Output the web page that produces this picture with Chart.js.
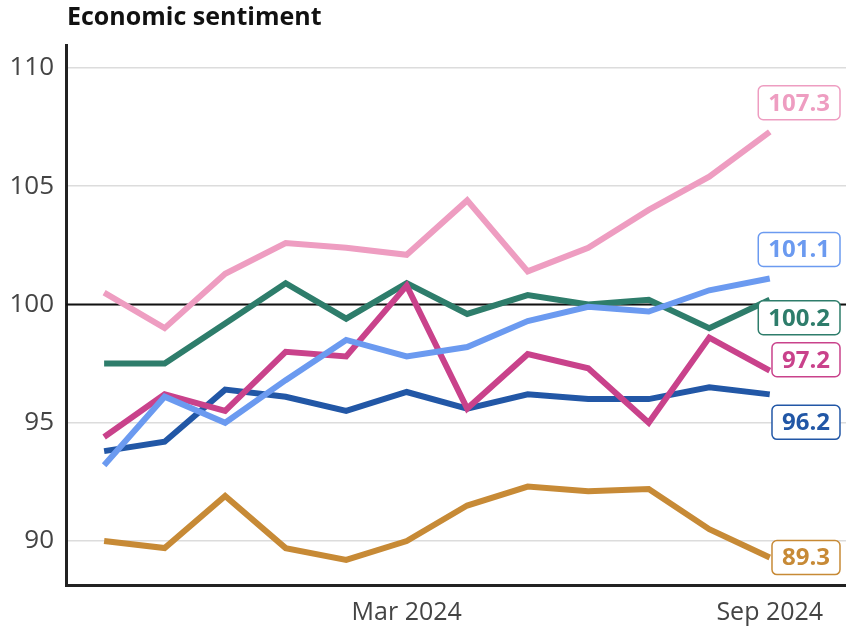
<!DOCTYPE html>
<html>
<head>
<meta charset="utf-8">
<script src="https://cdn.jsdelivr.net/npm/chart.js@4"></script>
<style>
  html, body { margin: 0; padding: 0; background: #fff; }
  #wrap { width: 846px; height: 627px; position: relative; }
</style>
</head>
<body>
<div id="wrap"><canvas id="chart" width="846" height="627"></canvas></div>
<script>
const months = ["Oct 2023", "Nov 2023", "Dec 2023", "Jan 2024", "Feb 2024", "Mar 2024",
                "Apr 2024", "May 2024", "Jun 2024", "Jul 2024", "Aug 2024", "Sep 2024"];
const shownMonths = ["Mar 2024", "Sep 2024"];
const yTicks = [90, 95, 100, 105, 110];

const pinkValues    = [100.5, 99.0, 101.3, 102.6, 102.4, 102.1, 104.4, 101.4, 102.4, 104.0, 105.4, 107.3];
const lightValues   = [93.2, 96.1, 95.0, 96.8, 98.5, 97.8, 98.2, 99.3, 99.9, 99.7, 100.6, 101.1];
const magentaValues = [94.4, 96.2, 95.5, 98.0, 97.8, 100.8, 95.6, 97.9, 97.3, 95.0, 98.6, 97.2];
const greenValues   = [97.5, 97.5, 99.2, 100.9, 99.4, 100.9, 99.6, 100.4, 100.0, 100.2, 99.0, 100.2];
const darkValues    = [93.8, 94.2, 96.4, 96.1, 95.5, 96.3, 95.6, 96.2, 96.0, 96.0, 96.5, 96.2];
const goldValues    = [90.0, 89.7, 91.9, 89.7, 89.2, 90.0, 91.5, 92.3, 92.1, 92.2, 90.5, 89.3];

const FONT = "'Open Sans', 'Noto Sans', sans-serif";

function series(label, values, color, labelShift) {
    return {
        label: label,
        data: values.map((v, i) => ({ x: i, y: v })),
        borderColor: color,
        backgroundColor: color,
        borderWidth: 6,
        pointRadius: 0,
        tension: 0,
        borderJoinStyle: "miter",
        labelShift: labelShift
    };
}

const endLabels = {
    id: "endLabels",
    afterDatasetsDraw(chart) {
        const ctx = chart.ctx;
        const area = chart.chartArea;
        ctx.save();
        ctx.font = "bold 24px " + FONT;
        chart.data.datasets.forEach((ds, i) => {
            const pts = chart.getDatasetMeta(i).data;
            const last = pts[pts.length - 1];
            const txt = ds.data[ds.data.length - 1].y.toFixed(1);
            const w = ctx.measureText(txt).width + 20;
            const h = 34;
            const right = area.right - 6;
            const cy = last.y + ds.labelShift;
            ctx.beginPath();
            ctx.roundRect(right - w, cy - h / 2, w, h, 5);
            ctx.fillStyle = "#fff";
            ctx.fill();
            ctx.lineWidth = 1.5;
            ctx.strokeStyle = ds.borderColor;
            ctx.stroke();
            ctx.fillStyle = ds.borderColor;
            ctx.textAlign = "center";
            ctx.textBaseline = "middle";
            ctx.fillText(txt, right - w / 2, cy + 1);
        });
        ctx.restore();
    }
};

const refLine = {
    id: "refLine",
    beforeDatasetsDraw(chart) {
        const ctx = chart.ctx;
        const y = chart.scales.y.getPixelForValue(100);
        ctx.save();
        ctx.strokeStyle = "#111";
        ctx.lineWidth = 2;
        ctx.beginPath();
        ctx.moveTo(chart.chartArea.left, y);
        ctx.lineTo(chart.chartArea.right, y);
        ctx.stroke();
        ctx.restore();
    },
    afterDraw(chart) {
        const ctx = chart.ctx;
        ctx.save();
        ctx.font = "bold 25px " + FONT;
        ctx.fillStyle = "#111";
        ctx.textBaseline = "middle";
        ctx.fillText("Economic sentiment", chart.chartArea.left + 1, 18);
        ctx.restore();
    }
};

new Chart(document.getElementById("chart"), {
    type: "line",
    data: {
        datasets: [
            series("Pink", pinkValues, "#ee9dc1", -29),
            series("Light blue", lightValues, "#6b9af0", -29),
            series("Magenta", magentaValues, "#c9428b", -11),
            series("Green", greenValues, "#2e7d6b", 18),
            series("Dark blue", darkValues, "#2257a6", 28),
            series("Gold", goldValues, "#c78a36", 0)
        ]
    },
    options: {
        responsive: false,
        animation: false,
        layout: { padding: { top: 45, right: 0, left: 0, bottom: 0 } },
        plugins: { legend: { display: false }, tooltip: { enabled: false } },
        scales: {
            x: {
                type: "linear",
                min: -0.63,
                max: 12.26,
                afterBuildTicks(scale) {
                    scale.ticks = shownMonths.map(m => ({ value: months.indexOf(m) }));
                },
                afterFit(scale) { scale.height = 42; },
                grid: { display: false, drawTicks: false },
                border: { display: true, color: "#222", width: 3 },
                ticks: {
                    callback: v => months[v],
                    font: { family: FONT, size: 25 },
                    color: "#444",
                    padding: 13,
                    maxRotation: 0
                }
            },
            y: {
                min: 88.14,
                max: 110.97,
                afterBuildTicks(scale) {
                    scale.ticks = yTicks.map(v => ({ value: v }));
                },
                afterFit(scale) { scale.width = 66; },
                grid: { color: "#dcdcdc", lineWidth: 1.5, drawTicks: false },
                border: { display: true, color: "#222", width: 3 },
                ticks: {
                    font: { family: FONT, size: 26 },
                    color: "#444",
                    padding: 12
                }
            }
        }
    },
    plugins: [refLine, endLabels]
});
</script>
</body>
</html>
